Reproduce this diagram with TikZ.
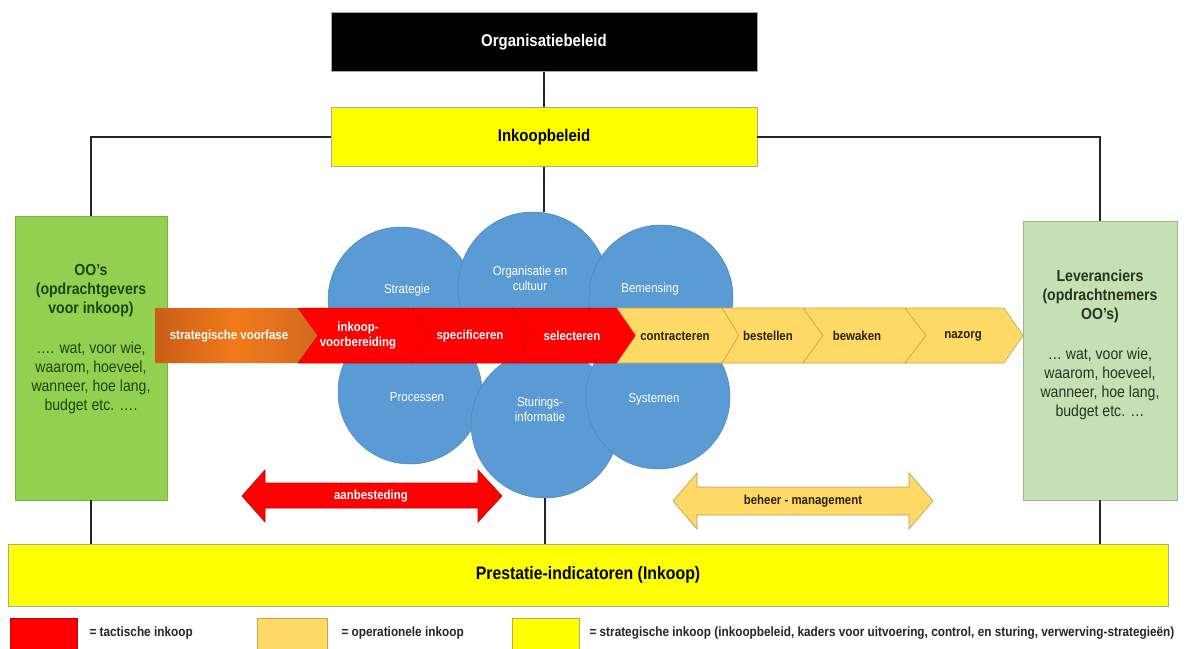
\documentclass[tikz,border=0pt]{standalone}
\usepackage{fontspec}
\setmainfont{Liberation Sans}[FakeStretch=0.88]
\definecolor{ybox}{HTML}{FFFF00}
\definecolor{lgreen}{HTML}{92D050}
\definecolor{lgreenb}{HTML}{7BB33E}
\definecolor{pgreen}{HTML}{C5E0B4}
\definecolor{pgreenb}{HTML}{9DB58C}
\definecolor{cblue}{HTML}{5B9BD5}
\definecolor{cblueb}{HTML}{4A84BC}
\definecolor{lor}{HTML}{FFD966}
\definecolor{lorb}{HTML}{C2A452}
\definecolor{redb}{HTML}{C80000}
\definecolor{dgreen}{HTML}{1E4412}
\definecolor{rtext}{HTML}{2A3322}
\definecolor{dtext}{HTML}{2A2208}
\definecolor{orl}{HTML}{C85E16}
\definecolor{orm}{HTML}{F27A1C}
\definecolor{orr}{HTML}{D06A1E}
\begin{document}
\begin{tikzpicture}[x=1pt,y=-1pt,
  box/.style={draw=gray!70, line width=0.6pt, inner sep=0pt},
  conn/.style={draw=black!85, line width=1.4pt},
  cloud/.style={circle, fill=cblue, draw=cblueb, line width=0.5pt, inner sep=0pt},
  clabel/.style={text=white, align=center, font=\fontsize{13}{15}\selectfont},
  blabel/.style={text=white, align=center, font=\fontsize{13}{15}\selectfont\bfseries},
  olabel/.style={text=dtext, align=center, font=\fontsize{13}{15}\selectfont\bfseries},
  boxtext/.style={align=center, font=\fontsize{16}{19}\selectfont},
  legtext/.style={anchor=west, text=black!85, font=\fontsize{13.4}{15}\selectfont\bfseries},
  redchev/.style={fill=red, draw=redb, line width=0.5pt},
  orchev/.style={fill=lor, draw=lorb, line width=0.6pt}
]
\useasboundingbox (0,0) rectangle (1186,648);
\fill[white] (0,0) rectangle (1186,648);

% top boxes
\node[box, fill=black, minimum width=426pt, minimum height=59pt, text=white,
      font=\fontsize{17}{19}\selectfont\bfseries] (org) at (544,42) {Organisatiebeleid};
\node[box, fill=ybox, minimum width=426pt, minimum height=59pt, text=black,
      font=\fontsize{17}{19}\selectfont\bfseries] (ink) at (544,137) {Inkoopbeleid};

% side boxes
\node[box, fill=lgreen, draw=lgreenb, minimum width=152pt, minimum height=284pt] (left) at (91,358) {};
\node[box, fill=pgreen, draw=pgreenb, minimum width=154pt, minimum height=279pt] (right) at (1100,360.5) {};
\node[boxtext, text=dgreen] (lefttxt) at (91,339)
  {\textbf{OO’s}\\\textbf{(opdrachtgevers}\\\textbf{voor inkoop)}\\[21pt]…. wat, voor wie,\\waarom, hoeveel,\\wanneer, hoe lang,\\budget etc. ….};
\node[boxtext, text=rtext] (righttxt) at (1100,345)
  {\textbf{Leveranciers}\\\textbf{(opdrachtnemers}\\\textbf{OO’s)}\\[21pt]… wat, voor wie,\\waarom, hoeveel,\\wanneer, hoe lang,\\budget etc. …};

% bottom box
\node[box, fill=ybox, minimum width=1160pt, minimum height=62pt,
      font=\fontsize{18}{20}\selectfont\bfseries] (prest) at (588,575) {Prestatie-indicatoren (Inkoop)};

% clouds
\node[cloud, minimum size=146pt] (c1) at (401,300) {};
\node[cloud, minimum size=150pt] (c2) at (533,287) {};
\node[cloud, minimum size=144pt] (c3) at (661,297) {};
\node[cloud, minimum size=144pt] (c4) at (410,392) {};
\node[cloud, minimum size=148pt] (c5) at (545,424) {};
\node[cloud, minimum size=144pt] (c6) at (658,397) {};
\node[clabel] (l1) at (407,290) {Strategie};
\node[clabel] (l2) at (530,278) {Organisatie en\\cultuur};
\node[clabel] (l3) at (650,289) {Bemensing};
\node[clabel] (l4) at (417,397) {Processen};
\node[clabel] (l5) at (540,409) {Sturings-\\informatie};
\node[clabel] (l6) at (654,399) {Systemen};

% connectors
\draw[conn] (org.south) -- (ink.north);
\draw[conn] (ink.west) -| (left.north);
\draw[conn] (ink.east) -| (right.north);
\draw[conn] (ink.south) -- (ink.south |- c2.north);
\draw[conn] (c5.south) -- (c5.south |- prest.north);
\draw[conn] (left.south) -- (left.south |- prest.north);
\draw[conn] (right.south) -- (right.south |- prest.north);

% chevron band
\shade[left color=orl, right color=orr, middle color=orm]
  (155,308) -- (298,308) -- (318,335.5) -- (298,363) -- (155,363) -- cycle;
\draw[redchev] (298,308) -- (412,308) -- (431,335.5) -- (412,363) -- (298,363) -- (318,335.5) -- cycle;
\draw[redchev] (412,308) -- (513,308) -- (532,335.5) -- (513,363) -- (412,363) -- (431,335.5) -- cycle;
\draw[redchev] (513,308) -- (617,308) -- (636,335.5) -- (617,363) -- (513,363) -- (532,335.5) -- cycle;
\draw[orchev] (617,308) -- (722,308) -- (739,335.5) -- (722,363) -- (617,363) -- (636,335.5) -- cycle;
\draw[orchev] (722,308) -- (803,308) -- (823,335.5) -- (803,363) -- (722,363) -- (739,335.5) -- cycle;
\draw[orchev] (803,308) -- (905,308) -- (926,335.5) -- (905,363) -- (803,363) -- (823,335.5) -- cycle;
\draw[orchev] (905,308) -- (1004,308) -- (1023,335.5) -- (1004,363) -- (905,363) -- (926,335.5) -- cycle;
\node[blabel] (s1) at (229,336) {strategische voorfase};
\node[blabel] (s2) at (358,336) {inkoop-\\voorbereiding};
\node[blabel] (s3) at (470,336) {specificeren};
\node[blabel] (s4) at (572,336) {selecteren};
\node[olabel] (s5) at (675,336) {contracteren};
\node[olabel] (s6) at (768,336) {bestellen};
\node[olabel] (s7) at (857,336) {bewaken};
\node[olabel] (s8) at (963,336) {nazorg};

% double arrows
\draw[fill=red, draw=redb, line width=0.6pt]
  (242,496) -- (265,470) -- (265,483) -- (478,483) -- (478,470) -- (502,496)
  -- (478,522) -- (478,508) -- (265,508) -- (265,522) -- cycle;
\node[blabel] (aanb) at (371,496) {aanbesteding};
\draw[fill=lor, draw=lorb!80!gray, line width=0.6pt]
  (673,501) -- (697,473) -- (697,487) -- (909,487) -- (909,473) -- (933,501)
  -- (909,529) -- (909,515) -- (697,515) -- (697,529) -- cycle;
\node[olabel] (beheer) at (803,501) {beheer - management};

% legend
\node[box, fill=red, draw=redb, minimum width=67pt, minimum height=31pt] (lg1) at (43.5,633.5) {};
\node[legtext] (lt1) at (86,633) {= tactische inkoop};
\node[box, fill=lor, draw=lorb, minimum width=70pt, minimum height=31pt] (lg2) at (292,633.5) {};
\node[legtext] (lt2) at (338,633) {= operationele inkoop};
\node[box, fill=ybox, draw=lorb, minimum width=67pt, minimum height=31pt] (lg3) at (545.5,633.5) {};
\node[legtext] (lt3) at (586,633) {= strategische inkoop (inkoopbeleid, kaders voor uitvoering, control, en sturing, verwerving-strategieën)};
\end{tikzpicture}
\end{document}
